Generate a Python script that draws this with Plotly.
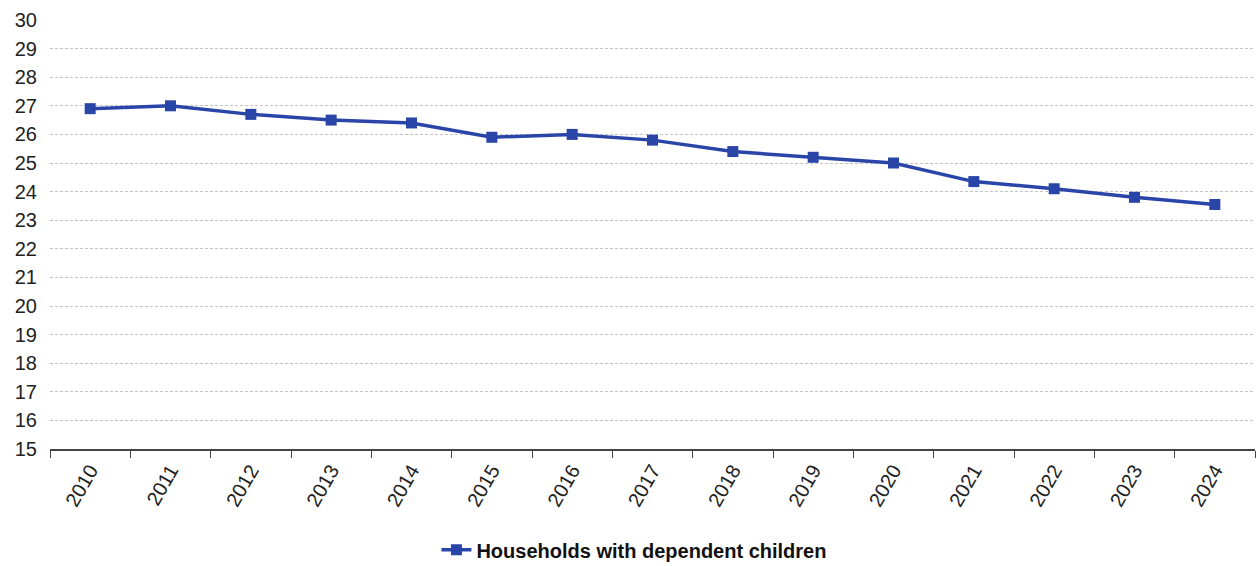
import plotly.graph_objects as go

years = ["2010", "2011", "2012", "2013", "2014", "2015", "2016", "2017",
         "2018", "2019", "2020", "2021", "2022", "2023", "2024"]
households_with_children = [26.9, 27.0, 26.7, 26.5, 26.4, 25.9, 26.0, 25.8,
                            25.4, 25.2, 25.0, 24.35, 24.1, 23.8, 23.55]

series_name = "Households with dependent children"
line_color = "#2A45A8"

fig = go.Figure()
fig.add_trace(go.Scatter(
    x=years,
    y=households_with_children,
    mode="lines+markers",
    name=series_name,
    line=dict(color=line_color, width=3.5),
    marker=dict(symbol="square", size=11, color=line_color),
))

fig.update_layout(
    width=1258,
    height=566,
    margin=dict(l=50, r=3, t=20, b=117, autoexpand=False),
    paper_bgcolor="white",
    plot_bgcolor="white",
    font=dict(family="Liberation Sans, Arial, sans-serif", size=20, color="#222222"),
    showlegend=True,
    legend=dict(
        orientation="h",
        x=0.485,
        xanchor="center",
        y=-0.235,
        yanchor="middle",
        font=dict(size=20, color="#111111", weight="bold"),
        itemwidth=30,
    ),
    xaxis=dict(
        type="category",
        range=[-0.5, len(years) - 0.5],
        automargin=False,
        tickangle=-60,
        tickson="boundaries",
        ticks="outside",
        ticklen=7,
        tickcolor="#444444",
        showline=True,
        linecolor="#444444",
        linewidth=1.5,
        showgrid=False,
        tickfont=dict(size=20),
    ),
    yaxis=dict(
        automargin=False,
        range=[15, 30],
        dtick=1,
        showgrid=True,
        gridcolor="#c4c4c4",
        griddash="3px,2px",
        gridwidth=1,
        zeroline=False,
        showline=False,
        ticks="",
        ticklabelstandoff=12,
        tickfont=dict(size=20),
    ),
)

fig.write_html("out.html")
